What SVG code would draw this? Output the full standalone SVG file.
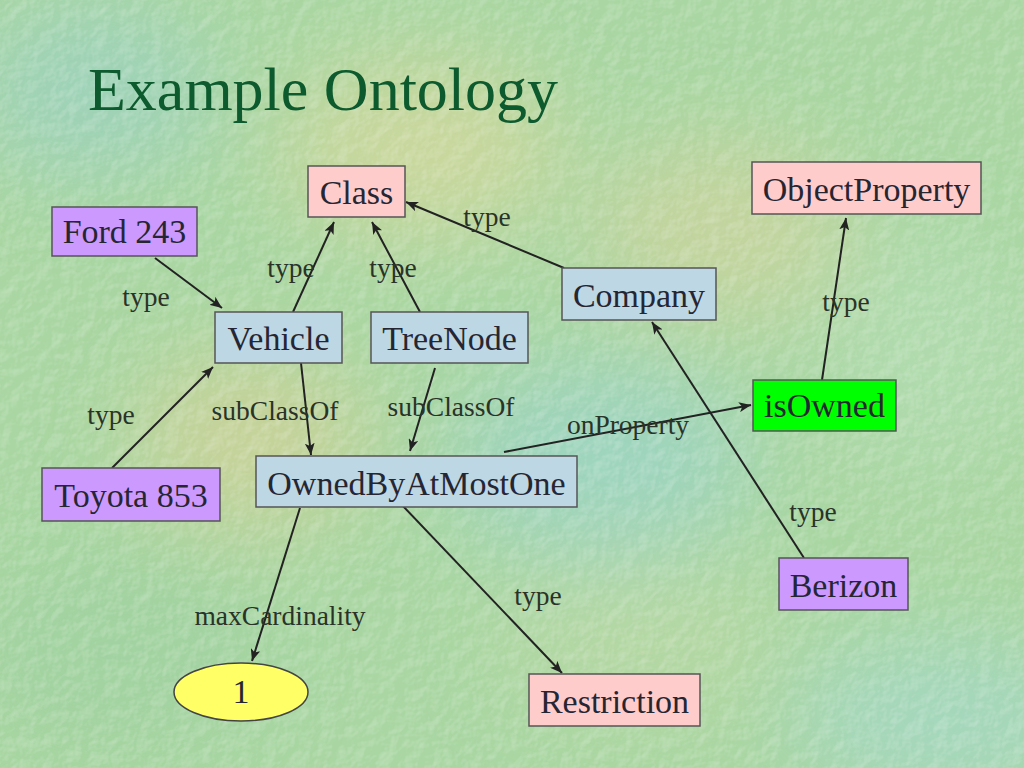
<svg xmlns="http://www.w3.org/2000/svg" width="1024" height="768" viewBox="0 0 1024 768">
<defs>
<style>
.box{stroke:#555;stroke-width:1.5}
.cls{fill:#ffcccc}
.inst{fill:#cc99ff}
.blue{fill:#bdd7e4}
.green{fill:#00ff00}
.nt{font-family:"Liberation Serif","Times New Roman",serif;font-size:34px;fill:#262633;text-anchor:middle}
.lt{font-family:"Liberation Serif","Times New Roman",serif;font-size:27.5px;fill:#2a3328;text-anchor:middle}
.edge{stroke:#222;stroke-width:2;fill:none;marker-end:url(#arr)}
</style>
<marker id="arr" viewBox="0 0 12 10" refX="12" refY="5" markerWidth="12" markerHeight="10" markerUnits="userSpaceOnUse" orient="auto">
<path d="M0,0 L12,5 L0,10 L3,5 z" fill="#222"/>
</marker>
<filter id="blur" x="-50%" y="-50%" width="200%" height="200%"><feGaussianBlur stdDeviation="45"/></filter>
<filter id="tex" x="0" y="0" width="100%" height="100%">
<feTurbulence type="fractalNoise" baseFrequency="0.07" numOctaves="3" seed="4" result="n"/>
<feDiffuseLighting in="n" surfaceScale="2" lighting-color="#ffffff" result="l"><feDistantLight azimuth="225" elevation="50"/></feDiffuseLighting>
<feColorMatrix in="l" type="matrix" values="0 0 0 0 1  0 0 0 0 1  0 0 0 0 1  1.3 0 0 0 -0.9"/>
</filter>
</defs>
<g id="background">
<rect width="1024" height="768" fill="#a9d6a2"/>
<g filter="url(#blur)" opacity="0.8">
<ellipse cx="420" cy="150" rx="140" ry="90" fill="#d2d89c"/>
<ellipse cx="250" cy="440" rx="120" ry="90" fill="#ced298"/>
<ellipse cx="720" cy="230" rx="130" ry="90" fill="#cbd49e"/>
<ellipse cx="90" cy="90" rx="120" ry="90" fill="#9cd2be"/>
<ellipse cx="600" cy="460" rx="150" ry="100" fill="#9cd4c4"/>
<ellipse cx="940" cy="720" rx="150" ry="80" fill="#a4d8c4"/>
<ellipse cx="930" cy="350" rx="110" ry="120" fill="#b2dcb0"/>
<ellipse cx="120" cy="650" rx="150" ry="100" fill="#a0d2a0"/>
<ellipse cx="640" cy="640" rx="140" ry="80" fill="#b8d8a4"/>
</g>
<rect width="1024" height="768" filter="url(#tex)" opacity="0.6"/>
</g>
<text id="title" x="88" y="110" font-family="'Liberation Serif','Times New Roman',serif" font-size="62" fill="#0c5a2e">Example Ontology</text>
<g id="connectors">
<line class="edge" x1="155" y1="258" x2="222" y2="308"/>
<line class="edge" x1="112" y1="468" x2="213" y2="367"/>
<line class="edge" x1="293" y1="312" x2="334" y2="222"/>
<line class="edge" x1="420" y1="312" x2="372" y2="222"/>
<line class="edge" x1="564" y1="268" x2="406" y2="202"/>
<line class="edge" x1="301" y1="363" x2="311" y2="455"/>
<line class="edge" x1="435" y1="368" x2="410" y2="451"/>
<line class="edge" x1="504" y1="452" x2="751" y2="405"/>
<line class="edge" x1="822" y1="380" x2="846" y2="218"/>
<line class="edge" x1="804" y1="558" x2="652" y2="322"/>
<line class="edge" x1="300" y1="508" x2="252" y2="661"/>
<line class="edge" x1="402" y1="505" x2="562" y2="673"/>
<g id="edge-labels">
<text class="lt" x="146" y="306">type</text>
<text class="lt" x="291" y="277">type</text>
<text class="lt" x="393" y="277">type</text>
<text class="lt" x="487" y="226">type</text>
<text class="lt" x="846" y="311">type</text>
<text class="lt" x="111" y="424">type</text>
<text class="lt" x="275" y="420">subClassOf</text>
<text class="lt" x="451" y="416">subClassOf</text>
<text class="lt" x="628" y="434">onProperty</text>
<text class="lt" x="813" y="521">type</text>
<text class="lt" x="538" y="605">type</text>
<text class="lt" x="280" y="625">maxCardinality</text>
</g>
</g>
<g id="node-class"><rect class="box cls" x="308" y="166" width="97" height="51"/><text class="nt" x="356.5" y="204">Class</text></g>
<g id="node-ford243"><rect class="box inst" x="52" y="207" width="145" height="49"/><text class="nt" x="124.5" y="243">Ford 243</text></g>
<g id="node-vehicle"><rect class="box blue" x="215" y="312" width="127" height="51"/><text class="nt" x="278.5" y="350">Vehicle</text></g>
<g id="node-treenode"><rect class="box blue" x="371" y="312" width="157" height="51"/><text class="nt" x="449.5" y="350">TreeNode</text></g>
<g id="node-company"><rect class="box blue" x="562" y="268" width="154" height="52"/><text class="nt" x="639" y="307">Company</text></g>
<g id="node-objectproperty"><rect class="box cls" x="752" y="162" width="229" height="52"/><text class="nt" x="866.5" y="201">ObjectProperty</text></g>
<g id="node-isowned"><rect class="box green" x="753" y="380" width="143" height="51"/><text class="nt" x="824.5" y="417">isOwned</text></g>
<g id="node-ownedbyatmostone"><rect class="box blue" x="256" y="456" width="321" height="51"/><text class="nt" x="416.5" y="495">OwnedByAtMostOne</text></g>
<g id="node-toyota853"><rect class="box inst" x="42" y="468" width="178" height="53"/><text class="nt" x="131" y="507">Toyota 853</text></g>
<g id="node-berizon"><rect class="box inst" x="779" y="558" width="129" height="52"/><text class="nt" x="843.5" y="597">Berizon</text></g>
<g id="node-restriction"><rect class="box cls" x="529" y="674" width="171" height="52"/><text class="nt" x="614.5" y="713">Restriction</text></g>
<g id="node-1"><ellipse cx="241" cy="692" rx="67" ry="29" fill="#ffff66" stroke="#444" stroke-width="1.5"/><text class="nt" x="241" y="703">1</text></g>
</svg>
